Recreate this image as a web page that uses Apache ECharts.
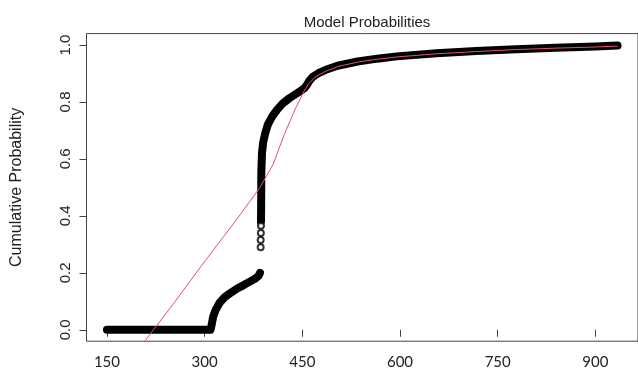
<!DOCTYPE html>
<html>
<head>
<meta charset="utf-8">
<script src="https://cdn.jsdelivr.net/npm/echarts@6/dist/echarts.min.js"></script>
<style>
  html, body { margin: 0; padding: 0; background: #fff; }
  #chart { width: 638px; height: 372px; }
</style>
</head>
<body>
<div id="chart"></div>
<script>
// ---- data ----
const titleText = "Model Probabilities";
const yAxisTitle = "Cumulative Probability";
const xTicks = [150, 300, 450, 600, 750, 900];
const yTicks = [0, 0.2, 0.4, 0.6, 0.8, 1.0];

// empirical CDF (black circles), lower part
const ecdfLowX = [150, 309, 311, 313, 317, 323, 331, 340, 350, 360, 370, 378, 383, 385];
const ecdfLowY = [0, 0, 0.02, 0.045, 0.07, 0.095, 0.115, 0.13, 0.145, 0.157, 0.17, 0.18, 0.19, 0.2];
// isolated circles in the jump
const ecdfGapX = [386, 386, 386.3, 386.5];
const ecdfGapY = [0.29, 0.315, 0.34, 0.365];
// empirical CDF, upper part
const ecdfHighX = [386.5, 386.8, 387, 388, 390, 393, 397, 404, 412, 420, 430, 440, 448, 453, 457, 461, 466, 474, 485, 504, 535, 565, 595, 656, 717, 778, 839, 900, 934];
const ecdfHighY = [0.38, 0.45, 0.55, 0.62, 0.66, 0.69, 0.72, 0.75, 0.775, 0.795, 0.813, 0.828, 0.84, 0.848, 0.86, 0.875, 0.888, 0.9, 0.912, 0.927, 0.942, 0.952, 0.96, 0.971, 0.979, 0.985, 0.99, 0.995, 0.998];

// model CDF (red line)
const modelX = [195, 213, 250, 300, 350, 385, 405, 423, 440, 452, 460, 470, 485, 504, 535, 565, 595, 656, 717, 778, 839, 900, 934];
const modelY = [-0.08, -0.025, 0.085, 0.24, 0.39, 0.5, 0.58, 0.69, 0.78, 0.835, 0.865, 0.888, 0.907, 0.924, 0.94, 0.95, 0.958, 0.969, 0.977, 0.984, 0.989, 0.993, 0.996];

const zip = (xs, ys) => xs.map((x, i) => [x, ys[i]]);

const chart = echarts.init(document.getElementById('chart'), null, { renderer: 'canvas' });

const axisColor = '#444';
const textColor = '#222';

chart.setOption({
  animation: false,
  backgroundColor: '#fff',
  title: {
    text: titleText,
    left: 362,
    top: 10,
    textAlign: 'center',
    textStyle: { fontFamily: 'Liberation Sans', fontSize: 15, fontWeight: 'normal', color: textColor }
  },
  grid: {
    left: 86.5,
    right: -6,
    top: 33.6,
    bottom: 30.8,
    show: true,
    borderColor: axisColor,
    borderWidth: 1,
    containLabel: false
  },
  xAxis: {
    type: 'value',
    min: 118.6,
    max: 965.4,
    axisLine: { show: false },
    splitLine: { show: false },
    axisTick: { show: true, length: 7, lineStyle: { color: axisColor }, customValues: xTicks },
    axisLabel: {
      show: true, margin: 13, color: textColor, fontFamily: 'Lato', fontSize: 15,
      customValues: xTicks,
      formatter: v => String(v)
    }
  },
  yAxis: {
    type: 'value',
    min: -0.04,
    max: 1.04,
    name: yAxisTitle,
    nameLocation: 'middle',
    nameGap: 62,
    nameTextStyle: { fontFamily: 'Liberation Sans', fontSize: 16, color: textColor },
    axisLine: { show: false },
    splitLine: { show: false },
    axisTick: { show: true, length: 7, lineStyle: { color: axisColor }, customValues: yTicks },
    axisLabel: {
      show: true, margin: 13, color: textColor, fontFamily: 'Liberation Sans', fontSize: 15,
      rotate: 90,
      customValues: yTicks,
      formatter: v => v.toFixed(1)
    }
  },
  series: [
    {
      type: 'line',
      data: zip(ecdfLowX, ecdfLowY),
      showSymbol: false,
      lineStyle: { color: '#000', width: 8, cap: 'round', join: 'round' },
      z: 2
    },
    {
      type: 'line',
      data: zip(ecdfHighX, ecdfHighY),
      showSymbol: false,
      lineStyle: { color: '#000', width: 8, cap: 'round', join: 'round' },
      z: 2
    },
    {
      type: 'scatter',
      data: zip(ecdfGapX, ecdfGapY),
      symbol: 'circle',
      symbolSize: 6,
      itemStyle: { color: '#fff', borderColor: '#000', borderWidth: 2 },
      z: 3
    },
    {
      type: 'line',
      data: zip(modelX, modelY),
      showSymbol: false,
      clip: true,
      lineStyle: { color: '#DF536B', width: 1 },
      z: 4
    }
  ]
});
</script>
</body>
</html>
